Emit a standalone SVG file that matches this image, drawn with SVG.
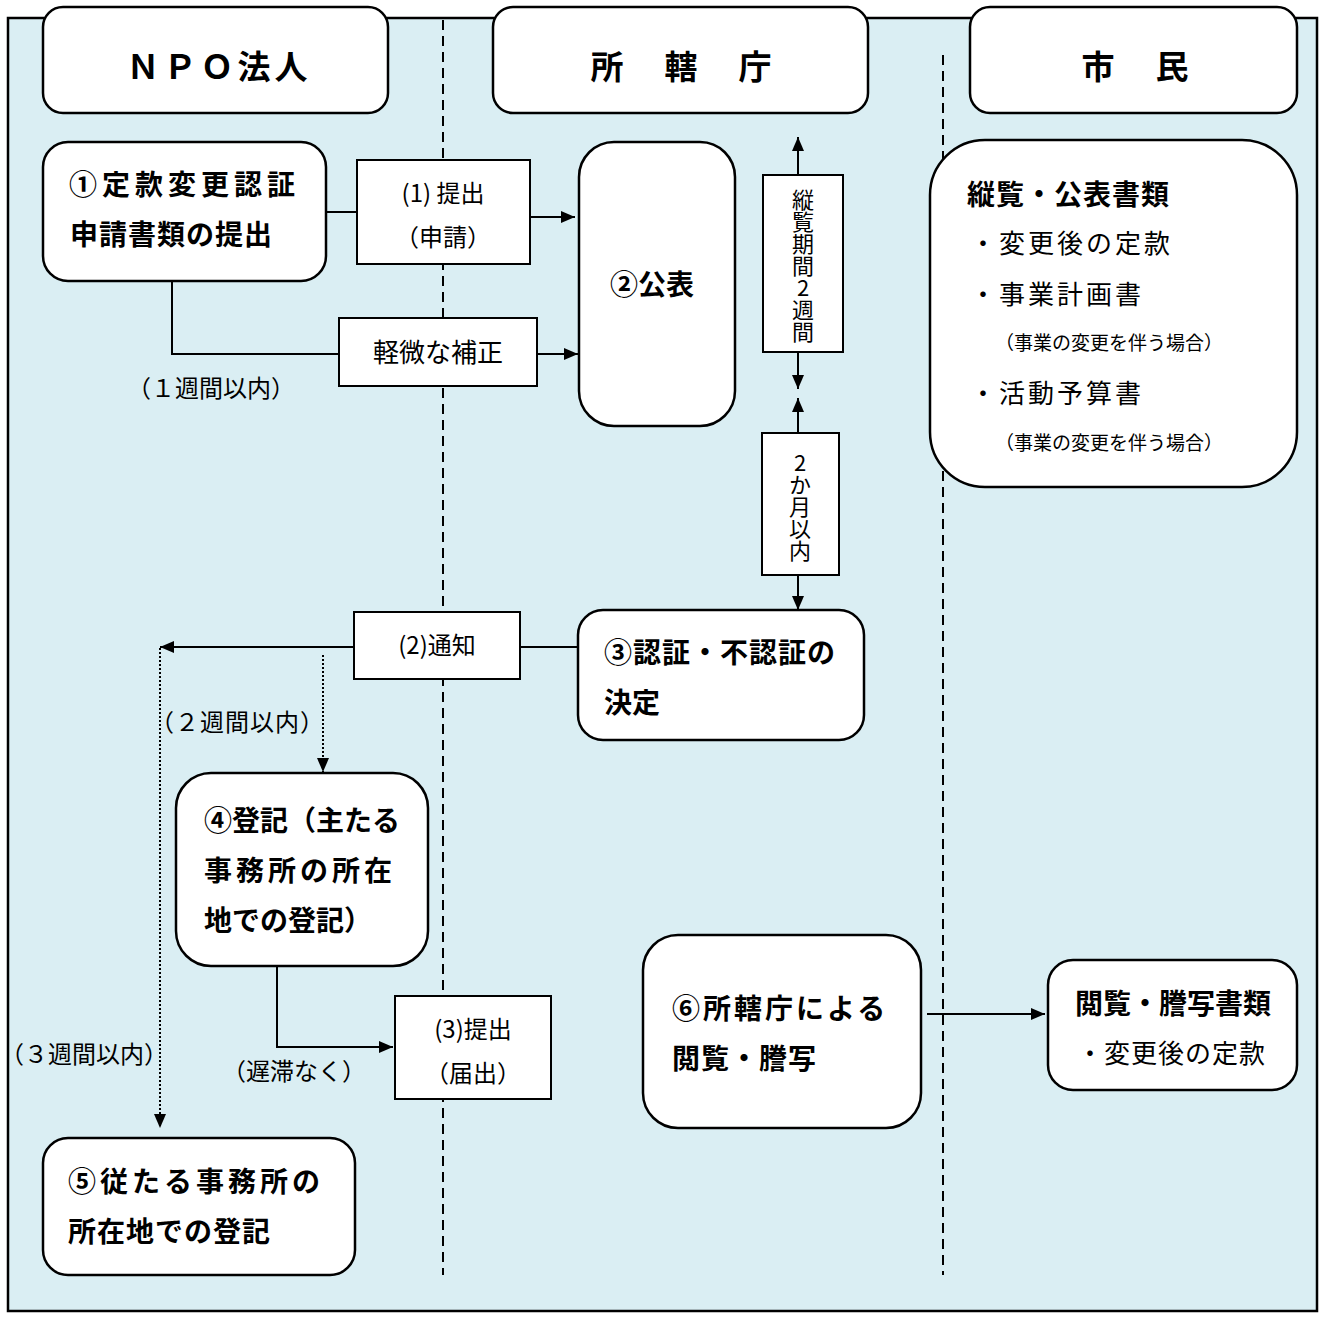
<svg xmlns="http://www.w3.org/2000/svg" width="1325" height="1318" viewBox="0 0 1325 1318">
<style>
.node{fill:#fff;stroke:#000;stroke-width:2.5}
.lbl{fill:#fff;stroke:#000;stroke-width:2}
.ln{fill:none;stroke:#000;stroke-width:2}
.dot{fill:none;stroke:#000;stroke-width:2;stroke-dasharray:2 2}
.dash{fill:none;stroke:#000;stroke-width:2;stroke-dasharray:10 6}
text{font-family:"Noto Sans CJK JP","Noto Sans",sans-serif;fill:#000}
.hd{font-size:33px;font-weight:bold;text-anchor:middle}
.b{font-size:28px;font-weight:bold}
.r{font-size:24px}
.m{font-size:26px}
.s{font-size:19px}
.c{text-anchor:middle}
.v{font-size:22px;writing-mode:vertical-rl;text-orientation:upright;text-anchor:middle}
</style>
<defs>
<marker id="ah" viewBox="0 0 14 12" refX="14" refY="6" markerWidth="14" markerHeight="12" markerUnits="userSpaceOnUse" orient="auto">
<path d="M0,0 L14,6 L0,12 Z" fill="#000"/>
</marker>
</defs>
<rect x="8" y="18" width="1309" height="1293" fill="#DAEEF3" stroke="#000" stroke-width="2.5"/>
<g id="lanes">
<path class="dash" d="M443,20 V1275"/>
<path class="dash" d="M943,55 V1275"/>
</g>
<g id="connectors">
<path class="ln" d="M326,212 H357"/>
<path class="ln" d="M530,217 H575" marker-end="url(#ah)"/>
<path class="ln" d="M172,281 V354 H339"/>
<path class="ln" d="M537,354 H578" marker-end="url(#ah)"/>
<path class="ln" d="M798,175 V137" marker-end="url(#ah)"/>
<path class="ln" d="M798,352 V389" marker-end="url(#ah)"/>
<path class="ln" d="M798,433 V398" marker-end="url(#ah)"/>
<path class="ln" d="M798,575 V610" marker-end="url(#ah)"/>
<path class="ln" d="M578,647 H520"/>
<path class="ln" d="M354,647 H160" marker-end="url(#ah)"/>
<path class="dot" d="M160,648 V1128" marker-end="url(#ah)"/>
<path class="dot" d="M323,655 V772" marker-end="url(#ah)"/>
<path class="ln" d="M277,966 V1047 H393" marker-end="url(#ah)"/>
<path class="ln" d="M927,1014 H1045" marker-end="url(#ah)"/>
</g>
<g id="h-npo"><rect class="node" x="43" y="7" width="345" height="106" rx="20"/><text class="hd" x="219" y="79" letter-spacing="4">ＮＰＯ法人</text></g>
<g id="h-gov"><rect class="node" x="493" y="7" width="375" height="106" rx="20"/><text class="hd" x="683" y="79" letter-spacing="4">所　轄　庁</text></g>
<g id="h-citizen"><rect class="node" x="970" y="7" width="327" height="106" rx="20"/><text class="hd" x="1137" y="79" letter-spacing="4">市　民</text></g>
<g id="n1"><rect class="node" x="43" y="142" width="283" height="139" rx="25"/><text class="b" x="69" y="195" letter-spacing="5">①定款変更認証</text><text class="b" x="70" y="245" letter-spacing="1">申請書類の提出</text></g>
<g id="l1"><rect class="lbl" x="357" y="160" width="173" height="104"/><text class="r c" x="443" y="202">(1)  提出</text><text class="r c" x="443" y="246">（申請）</text></g>
<g id="l-hosei"><rect class="lbl" x="339" y="318" width="198" height="68"/><text class="m c" x="438" y="362">軽微な補正</text></g>
<text id="t-1w" class="r" x="127" y="397">（１週間以内）</text>
<g id="n2"><rect class="node" x="579" y="142" width="156" height="284" rx="35"/><text class="b c" x="652" y="295">②公表</text></g>
<g id="l-juran"><rect class="lbl" x="763" y="175" width="80" height="177"/><text class="v" x="803" y="266">縦覧期間2週間</text></g>
<g id="l-2m"><rect class="lbl" x="762" y="433" width="77" height="142"/><text class="v" x="800" y="507">2か月以内</text></g>
<g id="n-docs"><rect class="node" x="930" y="140" width="367" height="347" rx="55"/>
<text class="b" x="967" y="205" letter-spacing="1">縦覧・公表書類</text>
<text class="m" x="970" y="253" letter-spacing="3">・変更後の定款</text>
<text class="m" x="970" y="304" letter-spacing="3">・事業計画書</text>
<text class="s" x="995" y="350">（事業の変更を伴う場合）</text>
<text class="m" x="970" y="403" letter-spacing="3">・活動予算書</text>
<text class="s" x="995" y="450">（事業の変更を伴う場合）</text></g>
<g id="n3"><rect class="node" x="578" y="610" width="286" height="130" rx="25"/><text class="b" x="604" y="663" letter-spacing="1">③認証・不認証の</text><text class="b" x="604" y="713">決定</text></g>
<g id="l2"><rect class="lbl" x="354" y="612" width="166" height="67"/><text class="r c" x="437" y="654">(2)通知</text></g>
<text id="t-2w" class="r" x="150" y="731" letter-spacing="1">（２週間以内）</text>
<g id="n4"><rect class="node" x="176" y="773" width="252" height="193" rx="35"/><text class="b" x="204" y="831">④登記（主たる</text><text class="b" x="204" y="881" letter-spacing="4">事務所の所在</text><text class="b" x="204" y="931">地での登記）</text></g>
<g id="l3"><rect class="lbl" x="395" y="996" width="156" height="103"/><text class="r c" x="473" y="1038">(3)提出</text><text class="r c" x="473" y="1082">（届出）</text></g>
<text id="t-chitai" class="r" x="222" y="1080">（遅滞なく）</text>
<text id="t-3w" class="r" x="0" y="1063">（３週間以内）</text>
<g id="n5"><rect class="node" x="43" y="1138" width="312" height="137" rx="25"/><text class="b" x="68" y="1192" letter-spacing="4">⑤従たる事務所の</text><text class="b" x="68" y="1242" letter-spacing="1">所在地での登記</text></g>
<g id="n6"><rect class="node" x="643" y="935" width="278" height="193" rx="35"/><text class="b" x="672" y="1019" letter-spacing="3">⑥所轄庁による</text><text class="b" x="672" y="1069" letter-spacing="1">閲覧・謄写</text></g>
<g id="n-etsuran"><rect class="node" x="1048" y="960" width="249" height="130" rx="25"/><text class="b" x="1075" y="1014">閲覧・謄写書類</text><text class="m" x="1077" y="1063" letter-spacing="1">・変更後の定款</text></g>
</svg>
